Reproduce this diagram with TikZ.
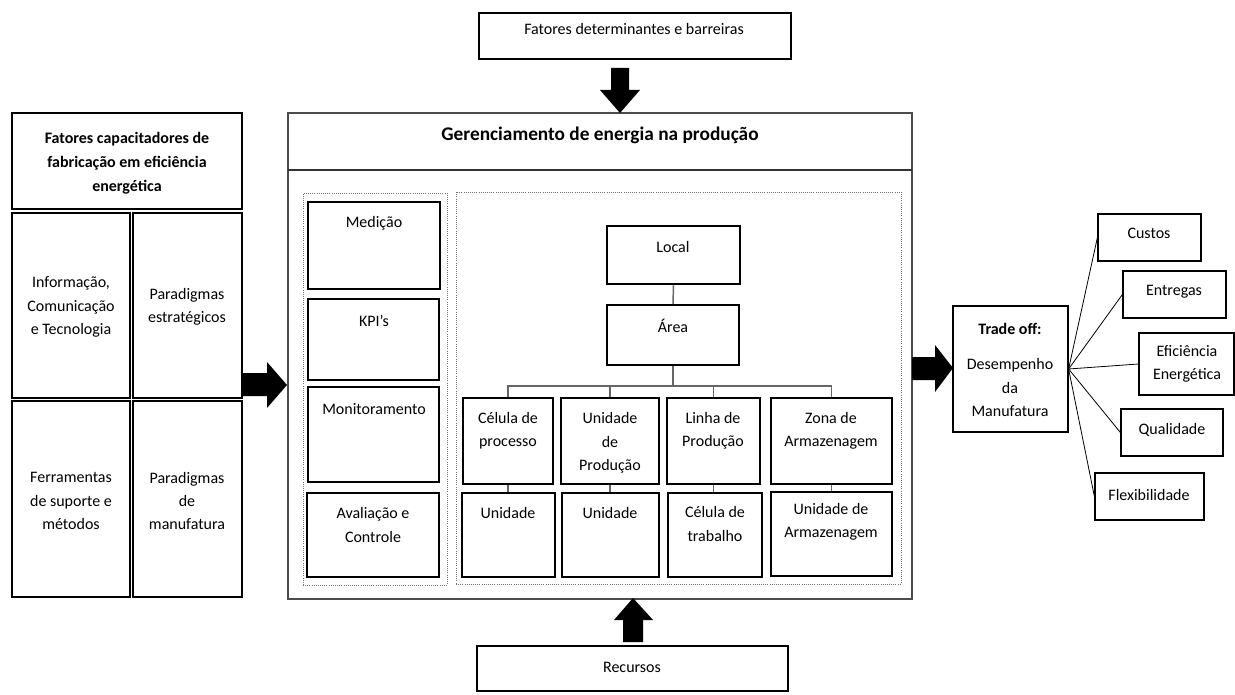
\documentclass[tikz,border=0pt]{standalone}
\usepackage{fontspec}
\setmainfont{Carlito}
\usetikzlibrary{fit}
\begin{document}
\begin{tikzpicture}[x=0.75pt,y=-0.75pt,
  box/.style={draw=black, line width=0.9pt, inner sep=0pt},
  thickbox/.style={box, line width=1.4pt},
  frame/.style={draw=black!55, densely dotted, line width=0.6pt, inner sep=0pt},
  txt/.style={inner sep=0pt, align=center, font=\fontsize{12}{17.5}\selectfont},
  bold/.style={txt, font=\fontsize{12}{18}\selectfont\bfseries},
  tree/.style={draw=black!60, line width=1.1pt},
  fan/.style={draw=black, line width=0.6pt},
  blockarrow/.style={fill=black, draw=none}]
\fill[white] (0,0) rectangle (1235,695);
\useasboundingbox (0,0) rectangle (1235,695);

% ---------- inputs above and below ----------
\node[box, fit={(479,13) (791,59)}] (fat) {};
\node[txt] (fat-t) at (634,29) {Fatores determinantes e barreiras};

\node[box, fit={(477,646) (788,691)}] (rec) {};
\node[txt] (rec-t) at (632,667) {Recursos};

% ---------- main frame ----------
\node[draw=black!70, line width=1pt, inner sep=0pt, fit={(288,113) (912,599)}] (main) {};
\coordinate (hdl) at (288,170);
\coordinate (hdr) at (912,170);
\draw[black!80, line width=1.5pt] (hdl) -- (hdr);
\node[txt, font=\fontsize{14.5}{17}\selectfont\bfseries] (main-t) at (600,135)
  {Gerenciamento de energia na produção};

\node[frame, fit={(303,193) (447,585)}] (fl) {};
\node[frame, fit={(456,192) (901,584)}] (fr) {};

% management steps
\node[thickbox, fit={(308,202) (440,289)}] (med) {};
\node[txt] (med-t) at (374,223) {Medição};
\node[box, fit={(308,299) (439,380)}] (kpi) {};
\node[txt] (kpi-t) at (374,321) {KPI’s};
\node[box, fit={(308,387) (439,482)}] (mon) {};
\node[txt] (mon-t) at (374,409) {Monitoramento};
\node[box, fit={(307,493) (439,577)}] (ava) {};
\node[txt] (ava-t) at (373,525) {Avaliação e\\Controle};

% hierarchy
\node[thickbox, fit={(607,226) (740,284)}] (loc) {};
\node[txt] (loc-t) at (673,247) {Local};
\node[thickbox, fit={(607,305) (739,365)}] (are) {};
\node[txt] (are-t) at (673,326) {Área};

\node[thickbox, fit={(463,398) (553,484)}] (cp) {};
\node[txt] (cp-t) at (508,431) {Célula de\\processo};
\node[thickbox, fit={(561,398) (659,484)}] (up) {};
\node[txt] (up-t) at (610,443) {Unidade\\de\\Produção};
\node[thickbox, fit={(667,398) (760,484)}] (lp) {};
\node[txt] (lp-t) at (713,431) {Linha de\\Produção};
\node[thickbox, fit={(771,398) (892,484)}] (za) {};
\node[txt] (za-t) at (831,431) {Zona de\\Armazenagem};

\node[thickbox, fit={(462,493) (555,577)}] (u1) {};
\node[txt] (u1-t) at (508,513) {Unidade};
\node[thickbox, fit={(562,493) (659,577)}] (u2) {};
\node[txt] (u2-t) at (610,513) {Unidade};
\node[thickbox, fit={(668,493) (762,577)}] (ct) {};
\node[txt] (ct-t) at (715,524) {Célula de\\trabalho};
\node[thickbox, fit={(771,492) (892,576)}] (ua) {};
\node[txt] (ua-t) at (831,522) {Unidade de\\Armazenagem};

\coordinate (bus) at (673,386);
\draw[tree] (loc.south) -- (are.north);
\draw[tree] (are.south) -- (bus);
\draw[tree] (cp.north) |- (bus) -| (za.north);
\draw[tree] (up.north) -- (up.north |- bus);
\draw[tree] (lp.north) -- (lp.north |- bus);
\draw[tree] (cp.south) -- (cp.south |- u1.north);
\draw[tree] (up.south) -- (up.south |- u2.north);
\draw[tree] (lp.south) -- (lp.south |- ct.north);
\draw[tree] (za.south) -- (za.south |- ua.north);

% ---------- enabling factors ----------
\node[thickbox, fit={(12,113) (242,209)}] (cap) {};
\node[bold] (cap-t) at (127,163) {Fatores capacitadores de\\fabricação em eficiência\\energética};
\node[box, fit={(12,213) (130,398)}] (ict) {};
\node[txt] (ict-t) at (71,307) {Informação,\\Comunicação\\e Tecnologia};
\node[thickbox, fit={(133,213) (242,398)}] (pe) {};
\node[txt] (pe-t) at (187,307) {Paradigmas\\estratégicos};
\node[box, fit={(12,401) (130,597)}] (fer) {};
\node[txt] (fer-t) at (71,501) {Ferramentas\\de suporte e\\métodos};
\node[box, fit={(133,401) (242,597)}] (pm) {};
\node[txt] (pm-t) at (187,501) {Paradigmas\\de\\manufatura};

% ---------- performance trade-off ----------
\node[box, fit={(953,306) (1068,432)}] (to) {};
\node[txt] (to-t) at (1010,370) {\textbf{Trade off:}\\[9pt]Desempenho\\da\\Manufatura};

\node[box, fit={(1098,214) (1201,261)}] (cus) {};
\node[txt] (cus-t) at (1149,233) {Custos};
\node[box, fit={(1123,271) (1226,318)}] (ent) {};
\node[txt] (ent-t) at (1174,292) {Entregas};
\node[box, fit={(1139,333) (1234,395)}] (efi) {};
\node[txt] (efi-t) at (1187,364) {Eficiência\\Energética};
\node[box, fit={(1121,409) (1223,456)}] (qua) {};
\node[txt] (qua-t) at (1172,430) {Qualidade};
\node[box, fit={(1095,473) (1204,520)}] (fle) {};
\node[txt] (fle-t) at (1149,495) {Flexibilidade};

\foreach \t in {cus,ent,efi,qua,fle}
  \draw[fan] (to.east) -- (\t.west);

% ---------- block arrows ----------
\fill[blockarrow] (611,68) -- (629,68) -- (629,90) -- (640,90) -- (620,113)
  -- (600,90) -- (611,90) -- cycle;
\fill[blockarrow] (623,642) -- (643,642) -- (643,620) -- (653,620) -- (633,598)
  -- (614,620) -- (623,620) -- cycle;
\fill[blockarrow] (243,373) -- (267,373) -- (267,362) -- (287,385) -- (267,408)
  -- (267,396) -- (243,396) -- cycle;
\fill[blockarrow] (912,357) -- (935,357) -- (935,345) -- (953,368) -- (935,392)
  -- (935,380) -- (912,380) -- cycle;
\end{tikzpicture}
\end{document}
